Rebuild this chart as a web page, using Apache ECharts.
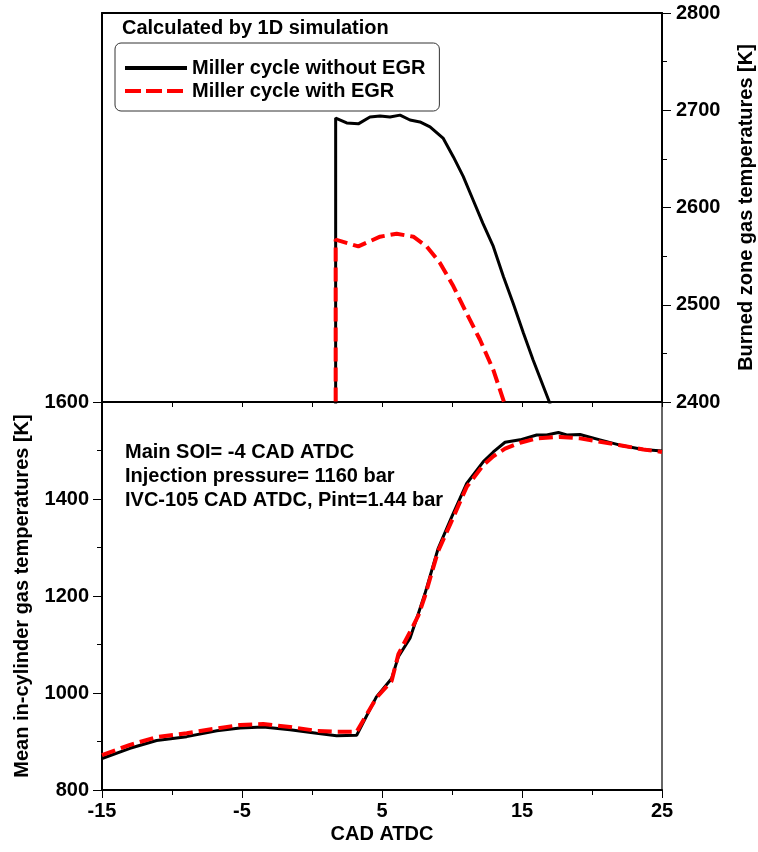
<!DOCTYPE html>
<html>
<head>
<meta charset="utf-8">
<script src="https://cdn.jsdelivr.net/npm/echarts@6/dist/echarts.min.js"></script>
<style>
	html, body { margin: 0; padding: 0; background: #fff; }
	#chart { width: 758px; height: 852px; }
</style>
</head>
<body>
<div id="chart"></div>
<script>
	// burned zone temperatures (top panel)
	var topBlackX = [1.69, 1.69, 2.48, 3.31, 4.14, 4.86, 5.57, 6.29, 7.0, 7.71, 8.43, 9.38, 10.1, 10.8, 11.5, 12.2, 12.95, 13.67, 14.38, 15.1, 15.8, 16.9, 17.2];
	var topBlackY = [2380, 2692, 2687, 2686, 2693, 2694, 2693, 2695, 2690, 2688, 2683, 2671, 2652, 2632, 2608, 2584, 2560, 2529, 2501, 2471, 2443, 2402, 2390];
	var topRedX = [1.69, 1.69, 3.31, 4.86, 6.05, 7.24, 8.19, 9.14, 10.1, 11.05, 12.0, 12.95, 13.67, 13.9];
	var topRedY = [2380, 2567, 2560, 2570, 2573, 2570, 2560, 2543, 2519, 2491, 2464, 2433, 2402, 2392];

	// mean in-cylinder temperatures (bottom panel)
	var botBlackX = [-15, -13, -11.1, -8.95, -6.8, -5.14, -3.48, -1.57, 0.33, 1.76, 3.19, 4.6, 5.69, 6.17, 7.0, 7.6, 8.07, 9.0, 9.98, 11.05, 12.24, 12.95, 13.79, 14.86, 16.05, 16.76, 17.6, 18.2, 19.14, 20.57, 22.0, 23.67, 25];
	var botBlackY = [865, 886, 902, 910, 922, 928, 930, 924, 917, 912, 913, 992, 1030, 1075, 1113, 1164, 1205, 1297, 1363, 1432, 1477, 1497, 1517, 1522, 1532, 1532, 1537, 1532, 1533, 1522, 1511, 1502, 1499];
	var botRedX = [-15, -13, -11.1, -8.95, -6.8, -5.14, -3.48, -1.57, 0.33, 1.76, 3.19, 4.6, 5.69, 6.17, 7.2, 7.6, 8.07, 9.0, 9.98, 11.05, 12.24, 12.95, 13.79, 14.86, 16.05, 17.7, 19.14, 20.57, 22.0, 23.67, 25];
	var botRedY = [872, 893, 909, 917, 927, 934, 936, 930, 922, 920, 920, 990, 1025, 1080, 1137, 1160, 1200, 1292, 1355, 1425, 1470, 1488, 1504, 1516, 1525, 1528, 1525, 1518, 1511, 1502, 1497];

	var notes = ['Main SOI= -4 CAD ATDC', 'Injection pressure= 1160 bar', 'IVC-105 CAD ATDC, Pint=1.44 bar'];

	function pairs(xs, ys) {
		return xs.map(function (x, i) { return [x, ys[i]]; });
	}

	var font = 'Liberation Sans';
	var lbl = { color: '#000', fontFamily: font, fontWeight: 'bold', fontSize: 20 };
	var axLine = { show: true, onZero: false, lineStyle: { color: '#000', width: 2 } };
	var plain = function (v) { return String(v); };
	var blackLine = { color: '#000', width: 3 };
	var redLine = { color: '#ff0000', width: 4, type: [14, 6] };

	var myChart = echarts.init(document.getElementById('chart'));
	myChart.setOption({
		backgroundColor: '#fff',
		animation: false,
		grid: [
			{ left: 102, right: 96, top: 13, height: 389, outerBoundsMode: 'none', containLabel: false },
			{ left: 102, right: 96, top: 402, height: 388, outerBoundsMode: 'none', containLabel: false }
		],
		legend: {
			orient: 'vertical',
			left: 115,
			top: 43,
			data: [
				{ name: 'Miller cycle without EGR', lineStyle: { width: 4 } },
				{ name: 'Miller cycle with EGR', lineStyle: { width: 4, type: [16, 5] } }
			],
			borderColor: '#333',
			borderWidth: 1,
			borderRadius: 6,
			padding: [15, 14, 10, 8],
			itemWidth: 62,
			itemHeight: 14,
			itemGap: 3,
			itemStyle: { opacity: 0 },
			textStyle: { color: '#000', fontFamily: font, fontWeight: 'bold', fontSize: 20, lineHeight: 20 }
		},
		xAxis: [
			{
				gridIndex: 0, type: 'value', min: -15, max: 25, interval: 5, position: 'bottom',
				axisLine: axLine,
				axisTick: { show: true, inside: false, length: 5, lineStyle: { color: '#000', width: 1 } },
				axisLabel: { show: false },
				splitLine: { show: false }
			},
			{
				gridIndex: 0, type: 'value', min: -15, max: 25, position: 'top',
				axisLine: axLine, axisTick: { show: false }, axisLabel: { show: false }, splitLine: { show: false }
			},
			{
				gridIndex: 1, type: 'value', min: -15, max: 25, interval: 10, position: 'bottom',
				name: 'CAD ATDC', nameLocation: 'middle', nameGap: 34,
				nameTextStyle: lbl,
				axisLine: axLine,
				axisTick: { show: true, length: 8, lineStyle: { color: '#000', width: 1 } },
				minorTick: { show: true, splitNumber: 2, length: 5, lineStyle: { color: '#000', width: 1 } },
				axisLabel: Object.assign({ margin: 11, formatter: plain }, lbl),
				splitLine: { show: false }
			}
		],
		yAxis: [
			{
				gridIndex: 0, type: 'value', min: 2400, max: 2800, interval: 100, position: 'right',
				name: 'Burned zone gas temperatures [K]', nameLocation: 'middle', nameGap: 74, nameRotate: 90,
				nameTextStyle: lbl,
				axisLine: axLine,
				axisTick: { show: true, length: 9, lineStyle: { color: '#000', width: 1 } },
				minorTick: { show: true, splitNumber: 2, length: 5, lineStyle: { color: '#000', width: 1 } },
				axisLabel: Object.assign({ margin: 14, formatter: plain }, lbl),
				splitLine: { show: false }
			},
			{
				gridIndex: 0, type: 'value', min: 2400, max: 2800, position: 'left',
				axisLine: axLine, axisTick: { show: false }, axisLabel: { show: false }, splitLine: { show: false }
			},
			{
				gridIndex: 1, type: 'value', min: 800, max: 1600, interval: 200, position: 'left',
				name: 'Mean in-cylinder gas temperatures [K]', nameLocation: 'middle', nameGap: 70,
				nameTextStyle: lbl,
				axisLine: axLine,
				axisTick: { show: true, length: 9, lineStyle: { color: '#000', width: 1 } },
				minorTick: { show: true, splitNumber: 2, length: 5, lineStyle: { color: '#000', width: 1 } },
				axisLabel: Object.assign({ margin: 13, formatter: plain }, lbl),
				splitLine: { show: false }
			},
			{
				gridIndex: 1, type: 'value', min: 800, max: 1600, position: 'right',
				axisLine: { show: true, onZero: false, lineStyle: { color: '#333', width: 1.5 } },
				axisTick: { show: false }, axisLabel: { show: false }, splitLine: { show: false }
			}
		],
		series: [
			{
				name: 'Miller cycle without EGR', type: 'line', xAxisIndex: 0, yAxisIndex: 0,
				data: pairs(topBlackX, topBlackY), symbol: 'none', clip: true,
				lineStyle: blackLine, itemStyle: { color: '#000' }
			},
			{
				name: 'Miller cycle with EGR', type: 'line', xAxisIndex: 0, yAxisIndex: 0,
				data: pairs(topRedX, topRedY), symbol: 'none', clip: true,
				lineStyle: redLine, itemStyle: { color: '#ff0000' }
			},
			{
				name: 'Miller cycle without EGR', type: 'line', xAxisIndex: 2, yAxisIndex: 2,
				data: pairs(botBlackX, botBlackY), symbol: 'none', clip: true,
				lineStyle: blackLine, itemStyle: { color: '#000' }
			},
			{
				name: 'Miller cycle with EGR', type: 'line', xAxisIndex: 2, yAxisIndex: 2,
				data: pairs(botRedX, botRedY), symbol: 'none', clip: true,
				lineStyle: redLine, itemStyle: { color: '#ff0000' }
			}
		],
		graphic: [
			{
				type: 'text', left: 122, top: 18,
				style: { text: 'Calculated by 1D simulation', fill: '#000', font: 'bold 20px "Liberation Sans"' }
			},
			{
				type: 'text', left: 125, top: 440,
				style: { text: notes.join('\n'), fill: '#000', font: 'bold 20px "Liberation Sans"', lineHeight: 24 }
			}
		]
	});
</script>
</body>
</html>
